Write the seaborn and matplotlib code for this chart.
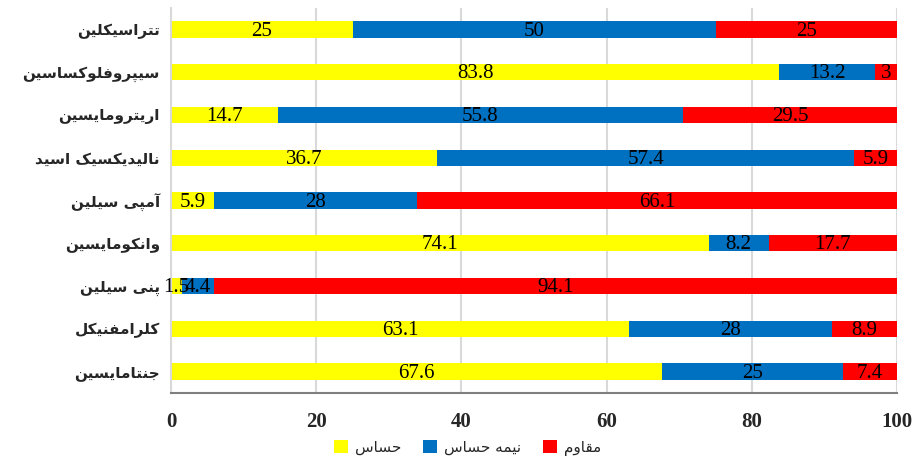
import numpy as np
import pandas as pd
import seaborn as sns
import matplotlib.pyplot as plt
from matplotlib.patches import Patch

# antibiotics, top to bottom
drugs = ['تتراسیکلین', 'سیپروفلوکساسین', 'اریترومایسین', 'نالیدیکسیک اسید',
         'آمپی سیلین', 'وانکومایسین', 'پنی سیلین', 'کلرامفنیکل', 'جنتامایسین']
sensitive = [25, 83.8, 14.7, 36.7, 5.9, 74.1, 1.5, 63.1, 67.6]
intermediate = [50, 13.2, 55.8, 57.4, 28, 8.2, 4.4, 28, 25]
resistant = [25, 3, 29.5, 5.9, 66.1, 17.7, 94.1, 8.9, 7.4]
series_names = ['حساس', 'نیمه حساس', 'مقاوم']
series_colors = ['#FFFF00', '#0070C0', '#FF0000']
x_ticks = [0, 20, 40, 60, 80, 100]

# presentation forms: isolated, final, initial, medial
FORMS = {
    'ا': (0xFE8D, 0xFE8E, None, None),
    'آ': (0xFE81, 0xFE82, None, None),
    'ب': (0xFE8F, 0xFE90, 0xFE91, 0xFE92),
    'پ': (0xFB56, 0xFB57, 0xFB58, 0xFB59),
    'ت': (0xFE95, 0xFE96, 0xFE97, 0xFE98),
    'ج': (0xFE9D, 0xFE9E, 0xFE9F, 0xFEA0),
    'ح': (0xFEA1, 0xFEA2, 0xFEA3, 0xFEA4),
    'د': (0xFEA9, 0xFEAA, None, None),
    'ر': (0xFEAD, 0xFEAE, None, None),
    'س': (0xFEB1, 0xFEB2, 0xFEB3, 0xFEB4),
    'ف': (0xFED1, 0xFED2, 0xFED3, 0xFED4),
    'ق': (0xFED5, 0xFED6, 0xFED7, 0xFED8),
    'ک': (0xFB8E, 0xFB8F, 0xFB90, 0xFB91),
    'ل': (0xFEDD, 0xFEDE, 0xFEDF, 0xFEE0),
    'م': (0xFEE1, 0xFEE2, 0xFEE3, 0xFEE4),
    'ن': (0xFEE5, 0xFEE6, 0xFEE7, 0xFEE8),
    'و': (0xFEED, 0xFEEE, None, None),
    'ه': (0xFEE9, 0xFEEA, 0xFEEB, 0xFEEC),
    'ی': (0xFBFC, 0xFBFD, 0xFBFE, 0xFBFF),
}


def shape(text):
    """Join Persian letters and reverse them for left-to-right drawing."""
    out = []
    for i, c in enumerate(text):
        if c not in FORMS:
            out.append(c)
            continue
        prev = text[i - 1] if i > 0 else ''
        nxt = text[i + 1] if i + 1 < len(text) else ''
        join_prev = prev in FORMS and FORMS[prev][2] is not None
        join_next = nxt in FORMS and FORMS[c][2] is not None
        iso, fin, ini, med = FORMS[c]
        if join_prev and join_next:
            code = med
        elif join_prev:
            code = fin
        elif join_next:
            code = ini
        else:
            code = iso
        out.append(chr(code))
    return ''.join(out)[::-1]


df = pd.DataFrame({'drug': drugs, 'sensitive': sensitive,
                   'intermediate': intermediate, 'resistant': resistant})
df['cum1'] = df['sensitive']
df['cum2'] = df['sensitive'] + df['intermediate']
df['cum3'] = df['cum2'] + df['resistant']

sns.set_style('white')
plt.rcParams['font.family'] = ['Liberation Serif', 'DejaVu Sans']

fig = plt.figure(figsize=(9.17, 4.58), dpi=100)
ax = fig.add_axes([0.1865, 0.142, 0.7917, 0.8405])

# stacked bars: draw the longest first, then cover it
for col, color in zip(['cum3', 'cum2', 'cum1'], series_colors[::-1]):
    sns.barplot(data=df, x=col, y='drug', orient='h', color=color,
                saturation=1, width=0.38, linewidth=0, ax=ax)

# value labels in the middle of each segment
for i, row in df.iterrows():
    starts = [0, row['cum1'], row['cum2']]
    vals = [row['sensitive'], row['intermediate'], row['resistant']]
    for s, v in zip(starts, vals):
        ax.text(s + v / 2, i + 0.04, f'{v:g}', ha='center', va='center',
                fontsize=15, family='Liberation Serif', color='black')

ax.set_xlim(0, 100)
ax.set_ylim(8.5, -0.5)
ax.set_xticks(x_ticks)
ax.set_xticklabels([str(t) for t in x_ticks], fontsize=15, fontweight='bold')
ax.set_yticks(range(len(drugs)))
ax.set_yticklabels([shape(d) for d in drugs], fontsize=11, fontweight='bold',
                   family='DejaVu Sans')
ax.tick_params(axis='x', length=0, pad=14)
ax.tick_params(axis='y', length=0, pad=8)
ax.set_xlabel('')
ax.set_ylabel('')

ax.grid(axis='x', color='#d9d9d9', linewidth=1.5)
ax.set_axisbelow(True)
for side in ['top', 'right']:
    ax.spines[side].set_visible(False)
ax.spines['left'].set_color('#d9d9d9')
ax.spines['left'].set_linewidth(1.5)
ax.spines['bottom'].set_color('#7f7f7f')
ax.spines['bottom'].set_linewidth(1.5)

handles = [Patch(facecolor=c, edgecolor='none') for c in series_colors]
fig.legend(handles, [shape(n) for n in series_names], loc='lower center',
           bbox_to_anchor=(0.51, -0.025), ncol=3, frameon=False,
           handlelength=0.9, handleheight=0.9, handletextpad=0.5,
           columnspacing=1.4, prop={'family': 'DejaVu Sans', 'size': 11})

fig.savefig('out.png', dpi=100)
